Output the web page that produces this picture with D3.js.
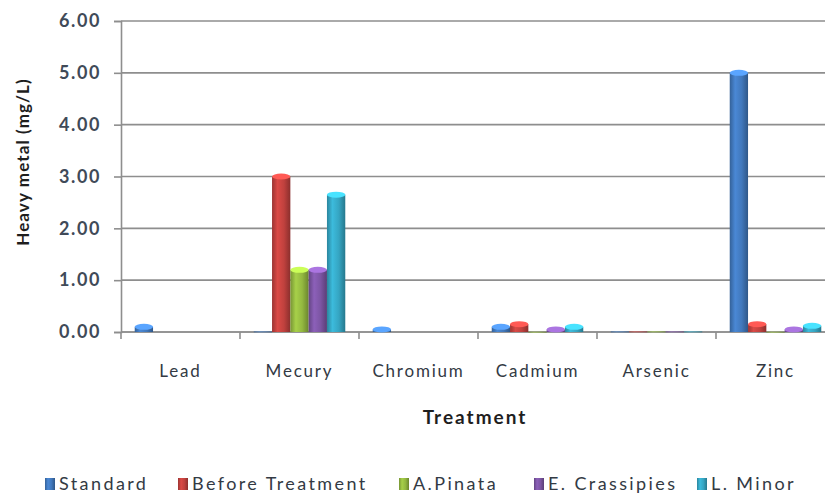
<!DOCTYPE html>
<html>
<head>
<meta charset="utf-8">
<script src="https://cdn.jsdelivr.net/npm/d3@7"></script>
<style>
  html, body { margin: 0; padding: 0; background: #fff; }
  svg { display: block; }
</style>
</head>
<body>
<svg id="chart" width="825" height="497"></svg>
<script>
// Heavy metal concentration per metal, for the standard and each treatment
const categories = ["Lead", "Mecury", "Chromium", "Cadmium", "Arsenic", "Zinc"];
const seriesNames = ["Standard", "Before Treatment", "A.Pinata", "E. Crassipies", "L. Minor"];
const standard        = [0.10, 0.01, 0.05, 0.10, 0.01, 5.00];
const beforeTreatment = [0.00, 3.00, 0.00, 0.15, 0.01, 0.15];
const aPinata         = [0.00, 1.20, 0.00, 0.005, 0.01, 0.005];
const eCrassipies     = [0.00, 1.20, 0.00, 0.05, 0.01, 0.05];
const lMinor          = [0.00, 2.65, 0.00, 0.10, 0.01, 0.12];
const yTicks = [0, 1, 2, 3, 4, 5, 6];

const seriesValues = [standard, beforeTreatment, aPinata, eCrassipies, lMinor];
const colors = ["#4178bc", "#c0413e", "#93b840", "#7c55a3", "#35a5c2"];

const svg = d3.select("#chart");
const W = 825, H = 497;
const plot = { left: 121, right: 835, top: 21, bottom: 332 };
const FONT = "Lato, sans-serif";

const defs = svg.append("defs");
// Cylinder shading for each series
colors.forEach((c, i) => {
  const base = d3.color(c);
  const g = defs.append("linearGradient")
    .attr("id", "cyl" + i).attr("x1", "0%").attr("x2", "100%").attr("y1", "0").attr("y2", "0");
  g.append("stop").attr("offset", "0%").attr("stop-color", base.darker(0.6));
  g.append("stop").attr("offset", "30%").attr("stop-color", base.brighter(0.35));
  g.append("stop").attr("offset", "65%").attr("stop-color", base);
  g.append("stop").attr("offset", "100%").attr("stop-color", base.darker(0.9));
});
defs.append("clipPath").attr("id", "frame")
  .append("rect").attr("x", 0).attr("y", 0).attr("width", W).attr("height", H);

const x0 = d3.scaleBand().domain(categories).range([plot.left, plot.right]).padding(0);
const gap = x0.bandwidth() * 1.5 / (seriesNames.length + 1.5);
const x1 = d3.scaleBand().domain(seriesNames).range([gap / 2, x0.bandwidth() - gap / 2]).padding(0);
const y = d3.scaleLinear().domain([0, 6]).range([plot.bottom, plot.top]);

const root = svg.append("g").attr("clip-path", "url(#frame)");

// Gridlines
root.append("g").selectAll("line").data(yTicks).join("line")
  .attr("x1", plot.left).attr("x2", plot.right)
  .attr("y1", d => y(d)).attr("y2", d => y(d))
  .attr("stroke", "#8e8e8e").attr("stroke-width", 1.6);

// Y axis
const yAxis = root.append("g").attr("transform", `translate(${plot.left},0)`)
  .call(d3.axisLeft(y).tickValues(yTicks).tickFormat(d3.format(".2f")).tickSize(7).tickPadding(13));
yAxis.select(".domain").attr("stroke", "#8e8e8e").attr("stroke-width", 1.6);
yAxis.selectAll(".tick line").attr("stroke", "#8e8e8e").attr("stroke-width", 1.6);
yAxis.selectAll(".tick text")
  .attr("font-family", FONT).attr("font-size", 18).attr("font-weight", "bold")
  .attr("letter-spacing", 1.6).attr("fill", "#404a58");

// X axis with tick marks at category boundaries
const xg = root.append("g").attr("transform", `translate(0,${plot.bottom})`);
xg.append("line").attr("x1", plot.left).attr("x2", plot.right).attr("stroke", "#8e8e8e").attr("stroke-width", 1.6);
const bounds = categories.map(c => x0(c)).concat([plot.right]);
xg.selectAll("line.tk").data(bounds).join("line").attr("class", "tk")
  .attr("x1", d => d).attr("x2", d => d).attr("y1", 0).attr("y2", 7)
  .attr("stroke", "#8e8e8e").attr("stroke-width", 1.6);
xg.selectAll("text").data(categories).join("text")
  .attr("x", d => x0(d) + x0.bandwidth() / 2).attr("y", 45)
  .attr("text-anchor", "middle")
  .attr("font-family", FONT).attr("font-size", 17).attr("letter-spacing", 1.8)
  .attr("fill", "#333a44").text(d => d);

// Bars drawn as shaded cylinders
const ry = 3;
const groups = root.append("g").selectAll("g").data(categories).join("g")
  .attr("transform", d => `translate(${x0(d)},0)`);
groups.each(function (cat, ci) {
  const g = d3.select(this);
  seriesNames.forEach((s, si) => {
    const v = seriesValues[si][ci];
    if (v <= 0) return;
    const bx = x1(s), bw = x1.bandwidth();
    const top = y(v), bot = y(0);
    const base = d3.color(colors[si]);
    g.append("rect").attr("x", bx).attr("y", top).attr("width", bw).attr("height", Math.max(bot - top, 0.8))
      .attr("fill", `url(#cyl${si})`);
    if (bot - top > 2) {
      g.append("ellipse").attr("cx", bx + bw / 2).attr("cy", top).attr("rx", bw / 2).attr("ry", ry)
        .attr("fill", base.brighter(0.9));
    }
  });
});

// Axis titles
svg.append("text")
  .attr("transform", `translate(29,162) rotate(-90)`)
  .attr("text-anchor", "middle")
  .attr("font-family", FONT).attr("font-size", 17).attr("font-weight", "bold")
  .attr("letter-spacing", 1.1).attr("fill", "#1e1e1e")
  .text("Heavy metal (mg/L)");
svg.append("text")
  .attr("x", 475).attr("y", 424).attr("text-anchor", "middle")
  .attr("font-family", FONT).attr("font-size", 19).attr("font-weight", "bold")
  .attr("letter-spacing", 2).attr("fill", "#1e1e1e")
  .text("Treatment");

// Legend
const legendX = [45, 178, 399, 534, 697];
const lg = svg.append("g").selectAll("g").data(seriesNames).join("g")
  .attr("transform", (d, i) => `translate(${legendX[i]},490)`);
lg.append("rect").attr("x", 0).attr("y", -12).attr("width", 10).attr("height", 12)
  .attr("fill", (d, i) => `url(#cyl${i})`);
lg.append("text").attr("x", 14).attr("y", 0)
  .attr("font-family", FONT).attr("font-size", 18).attr("letter-spacing", 2.4)
  .attr("fill", "#333a44").text(d => d);
</script>
</body>
</html>
